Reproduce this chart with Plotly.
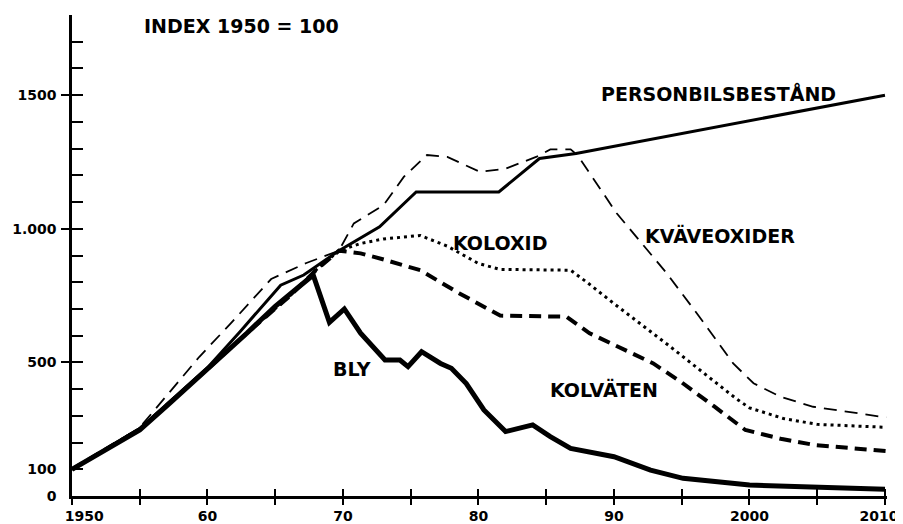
import plotly.graph_objects as go

# ---- data ----
bil_year = [1950, 1955, 1960, 1962.4, 1965.4, 1967.1, 1969.7, 1972.7, 1975.4, 1981.5, 1984.5, 1987.2, 2010]
bil_val = [100, 252, 480, 615, 789, 827, 918, 1007, 1138, 1138, 1263, 1282, 1500]

nox_year = [1950, 1955, 1959.4, 1961.7, 1964.7, 1967.3, 1969.7, 1970.8, 1973, 1974.5, 1976.2, 1977.7,
            1980.1, 1982, 1984.3, 1985.3, 1986.8, 1987.3, 1990.2, 1993.9, 1996.3, 1998.8, 2000.3,
            2002.3, 2004.7, 2007.9, 2010.1]
nox_val = [100, 256, 521, 645, 812, 872, 918, 1020, 1089, 1195, 1276, 1269,
           1213, 1225, 1270, 1297, 1297, 1276, 1058, 833, 671, 496, 422,
           371, 334, 309, 294]

co_year = [1950, 1955, 1960.2, 1962.9, 1966, 1968, 1969.7, 1971.3, 1973, 1975.7, 1977.7, 1980,
           1981.6, 1986.8, 1988, 1990, 1994, 1997.5, 1999, 2000, 2002.5, 2005, 2010.1]
co_val = [100, 250, 484, 609, 745, 845, 918, 945, 962, 975, 935, 870,
          848, 845, 800, 720, 565, 425, 365, 330, 290, 268, 257]

hc_year = [1950, 1955, 1960.2, 1962.9, 1966, 1968, 1969.7, 1971.3, 1973, 1975.7, 1978.6, 1981.6,
           1986.5, 1988.2, 1992.9, 1995, 1997.4, 1998.3, 1999.7, 2002.4, 2004.8, 2010.1]
hc_val = [100, 250, 484, 609, 745, 845, 918, 908, 885, 845, 758, 675,
          671, 609, 496, 425, 335, 300, 247, 213, 191, 168]

bly_year = [1950, 1955, 1957.2, 1960.2, 1962.9, 1965, 1967.8, 1969, 1970.1, 1971.3, 1973.1, 1974.2,
            1974.8, 1975.8, 1977.2, 1978, 1979.1, 1980.4, 1982, 1984, 1985.3, 1986.8, 1990,
            1992.7, 1995.1, 2000, 2005, 2010]
bly_val = [100, 247, 347, 484, 609, 710, 827, 650, 700, 609, 509, 509,
           484, 540, 496, 478, 421, 322, 241, 266, 222, 178, 147,
           97, 66, 41, 32, 25]

x_tick_vals = [1950, 1955, 1960, 1965, 1970, 1975, 1980, 1985, 1990, 1995, 2000, 2005, 2010]
x_tick_text = ["\u00a0\u00a0\u00a0\u00a0\u00a01950", "", "60", "", "70", "", "80", "", "90", "", "2000", "", ""]
x_end_text = ["", "", "", "", "", "", "", "", "", "", "", "", "2010"]
y_label_vals = [0, 100, 500, 1000, 1500]
y_label_text = ["0", "100", "500", "1.000", "1500"]
y_major_vals = [500, 1000, 1500]
y_minor_vals = [100, 200, 300, 400, 500, 600, 700, 800, 900, 1000, 1100, 1200, 1300, 1400, 1500, 1600, 1700]

labels = [
    ("INDEX 1950 = 100", 1962.5, 1758),
    ("PERSONBILSBESTÅND", 1997.7, 1508),
    ("KOLOXID", 1981.6, 946),
    ("KVÄVEOXIDER", 1997.8, 976),
    ("BLY", 1970.7, 475),
    ("KOLVÄTEN", 1989.3, 397),
]

FONT = "DejaVu Sans"
XR = [1950, 2010.15]
YR = [0, 1800]

fig = go.Figure()
fig.add_trace(go.Scatter(x=nox_year, y=nox_val, mode="lines",
                         line=dict(color="black", width=1.8, dash="13px,8px"), name="KVÄVEOXIDER"))
fig.add_trace(go.Scatter(x=co_year, y=co_val, mode="lines",
                         line=dict(color="black", width=3, dash="3px,4px"), name="KOLOXID"))
fig.add_trace(go.Scatter(x=hc_year, y=hc_val, mode="lines",
                         line=dict(color="black", width=4, dash="12px,7px"), name="KOLVÄTEN"))
fig.add_trace(go.Scatter(x=bil_year, y=bil_val, mode="lines",
                         line=dict(color="black", width=3), name="PERSONBILSBESTÅND"))
fig.add_trace(go.Scatter(x=bly_year, y=bly_val, mode="lines",
                         line=dict(color="black", width=5), name="BLY"))
# empty traces that carry the overlay axes used for the crossing tick marks
fig.add_trace(go.Scatter(x=[], y=[], xaxis="x2", yaxis="y2", hoverinfo="skip"))
fig.add_trace(go.Scatter(x=[], y=[], xaxis="x3", yaxis="y3", hoverinfo="skip"))

for text, lx, ly in labels:
    fig.add_annotation(x=lx, y=ly, text="<b>" + text + "</b>", showarrow=False,
                       xanchor="center", yanchor="middle",
                       font=dict(family=FONT, size=19, color="black"))

tickfont = dict(family=FONT, size=14, color="black", weight="bold")
tick_common = dict(showline=False, showgrid=False, zeroline=False,
                   automargin=False, tickwidth=2, tickcolor="black", tickmode="array")

# the page body has an 8px margin, so the figure is 8px smaller than the window
fig.update_layout(
    width=895, height=516,
    margin=dict(l=64, r=16, t=7, b=28, autoexpand=False),
    paper_bgcolor="white", plot_bgcolor="white",
    showlegend=False,
    font=dict(family=FONT, color="black"),
    xaxis=dict(range=XR, tickmode="array", tickvals=x_tick_vals, ticktext=x_tick_text,
               ticks="", ticklabelstandoff=5, automargin=False, ticklabeloverflow="allow",
               showline=True, linewidth=2.5, linecolor="black", showgrid=False, zeroline=False,
               tickfont=tickfont),
    xaxis2=dict(range=XR, overlaying="x", anchor="y2", tickvals=x_tick_vals,
                ticks="outside", ticklen=8, showticklabels=False, **tick_common),
    xaxis3=dict(range=XR, overlaying="x", anchor="y3", tickvals=x_tick_vals, ticktext=x_end_text,
                ticks="inside", ticklen=7, showticklabels=True, ticklabelstandoff=10,
                ticklabelshift=-6, ticklabeloverflow="allow", tickfont=tickfont, **tick_common),
    yaxis=dict(range=YR, tickmode="array", tickvals=y_label_vals, ticktext=y_label_text,
               ticks="", ticklabelstandoff=10, automargin=False, ticklabeloverflow="allow",
               showline=True, linewidth=2.5, linecolor="black", showgrid=False, zeroline=False,
               tickfont=tickfont),
    yaxis2=dict(range=YR, overlaying="y", anchor="x2", side="left",
                tickvals=y_major_vals, ticks="outside", ticklen=10, showticklabels=False, **tick_common),
    yaxis3=dict(range=YR, overlaying="y", anchor="x3", side="left",
                tickvals=y_minor_vals, ticks="inside", ticklen=11, showticklabels=False, **tick_common),
)

fig.write_html("out.html")
